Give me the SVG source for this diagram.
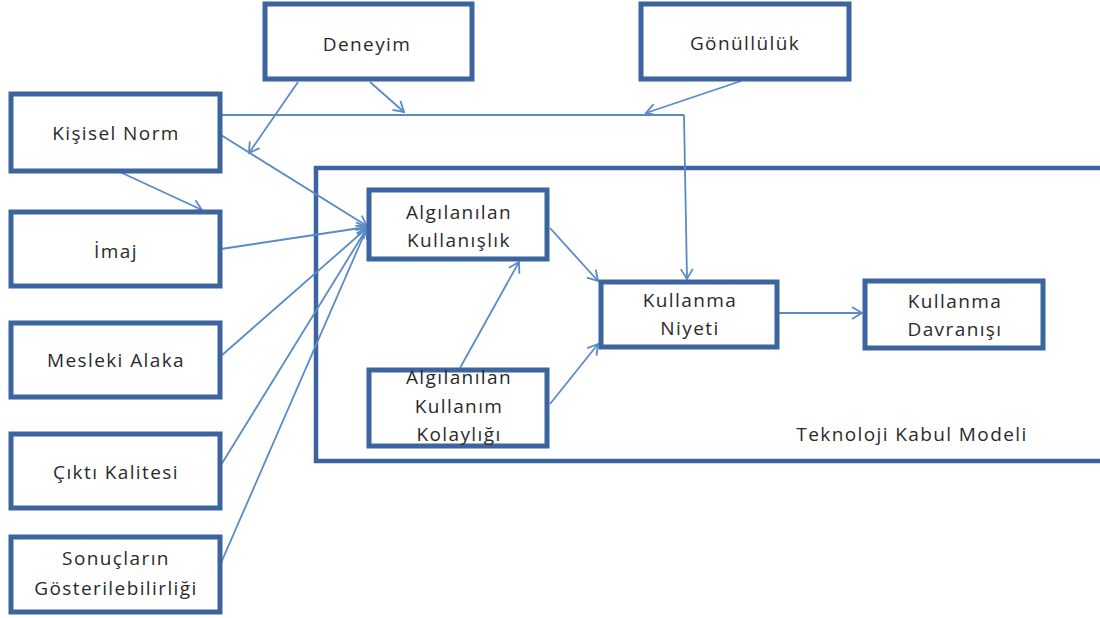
<svg xmlns="http://www.w3.org/2000/svg" width="1100" height="618" viewBox="0 0 1100 618">
  <style>
    .box { fill: #ffffff; stroke: #3c65a0; stroke-width: 5; }
    .frame { fill: none; stroke: #3c65a0; stroke-width: 4.5; }
    .lbl { font-family: "Open Sans", "Liberation Sans", sans-serif; font-size: 19px; letter-spacing: 1.4px; fill: #2a2a2a; text-anchor: middle; }
    .con { fill: none; stroke: #5a8ac8; stroke-width: 1.8; }
    .arr { marker-end: url(#arrow); }
  </style>
  <defs>
    <marker id="arrow" markerUnits="userSpaceOnUse" markerWidth="16" markerHeight="16" refX="11" refY="7" orient="auto">
      <path d="M1,1 L11,7 L1,13" fill="none" stroke="#5a8ac8" stroke-width="1.8"/>
    </marker>
  </defs>

  <!-- Technology Acceptance Model frame (open to the right edge) -->
  <g id="tkm-frame">
    <path class="frame" d="M1104,168 L316,168 L316,461 L1104,461"/>
    <text class="lbl" x="912" y="441">Teknoloji Kabul Modeli</text>
  </g>

  <!-- connectors -->
  <g id="connectors">
    <path class="con arr" d="M298,82 L249,153"/>
    <path class="con arr" d="M370,82 L404,112"/>
    <path class="con" d="M221,115 L684,115"/>
    <path class="con arr" d="M684,115 L687,279"/>
    <path class="con arr" d="M741,81 L646,113"/>
    <path class="con arr" d="M221,135 L367,226"/>
    <path class="con arr" d="M120,172 L202,210"/>
    <path class="con arr" d="M221,249 L367,227"/>
    <path class="con arr" d="M221,356 L367,228"/>
    <path class="con arr" d="M221,465 L367,228"/>
    <path class="con arr" d="M221,563 L367,228"/>
    <path class="con arr" d="M550,228 L598,281"/>
    <path class="con arr" d="M460,368 L519,262"/>
    <path class="con arr" d="M550,404 L598,344"/>
    <path class="con arr" d="M778,313 L862,313"/>
  </g>

  <g id="deneyim">
    <rect class="box" x="265" y="4" width="207" height="75"/>
    <text class="lbl" x="367" y="51">Deneyim</text>
  </g>
  <g id="gonulluluk">
    <rect class="box" x="641" y="4" width="208" height="75"/>
    <text class="lbl" x="745" y="50">Gönüllülük</text>
  </g>
  <g id="kisisel-norm">
    <rect class="box" x="11" y="94" width="209" height="77"/>
    <text class="lbl" x="116" y="140">Kişisel Norm</text>
  </g>
  <g id="imaj">
    <rect class="box" x="11" y="212" width="209" height="74"/>
    <text class="lbl" x="116" y="258">İmaj</text>
  </g>
  <g id="mesleki-alaka">
    <rect class="box" x="11" y="323" width="209" height="74"/>
    <text class="lbl" x="116" y="367">Mesleki Alaka</text>
  </g>
  <g id="cikti-kalitesi">
    <rect class="box" x="11" y="434" width="209" height="74"/>
    <text class="lbl" x="116" y="479">Çıktı Kalitesi</text>
  </g>
  <g id="sonuclarin">
    <rect class="box" x="11" y="537" width="209" height="75"/>
    <text class="lbl" x="116" y="565">Sonuçların</text>
    <text class="lbl" x="116" y="595">Gösterilebilirliği</text>
  </g>
  <g id="algilanan-kullanislik">
    <rect class="box" x="369" y="190" width="178" height="69"/>
    <text class="lbl" x="459" y="219">Algılanılan</text>
    <text class="lbl" x="459" y="247">Kullanışlık</text>
  </g>
  <g id="algilanan-kolaylik">
    <rect class="box" x="369" y="370" width="178" height="76"/>
    <text class="lbl" x="459" y="384">Algılanılan</text>
    <text class="lbl" x="459" y="413">Kullanım</text>
    <text class="lbl" x="459" y="441">Kolaylığı</text>
  </g>
  <g id="kullanma-niyeti">
    <rect class="box" x="601" y="282" width="176" height="65"/>
    <text class="lbl" x="690" y="307">Kullanma</text>
    <text class="lbl" x="690" y="335">Niyeti</text>
  </g>
  <g id="kullanma-davranisi">
    <rect class="box" x="865" y="281" width="178" height="67"/>
    <text class="lbl" x="955" y="308">Kullanma</text>
    <text class="lbl" x="955" y="336">Davranışı</text>
  </g>
</svg>
